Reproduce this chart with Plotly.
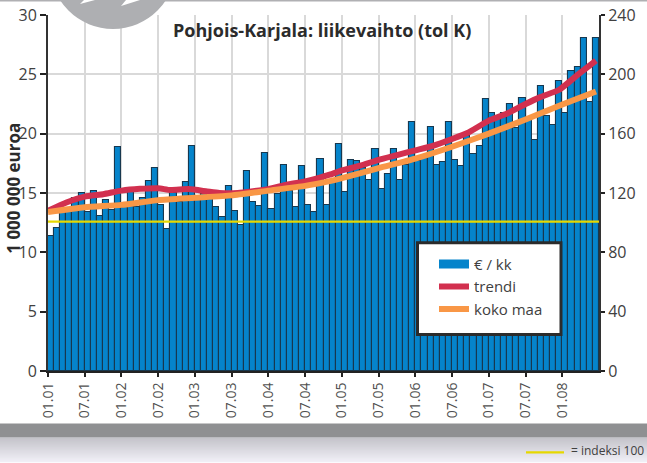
import plotly.graph_objects as go

FONT = "Open Sans, sans-serif"
W, H = 647, 463
L, R, T, B = 48, 599, 15, 371.5

months = list(range(90))
sales = [11.37, 12.05, 13.4, 13.7, 14.6, 15.0, 13.4, 15.2, 13.1, 14.45,
         13.6, 18.9, 13.9, 15.15, 13.8, 14.6, 16.05, 17.1, 14.0, 11.96,
         15.0, 14.2, 15.9, 19.0, 14.37, 14.95, 14.6, 13.84, 13.0, 15.6,
         13.5, 12.27, 16.85, 14.2, 13.9, 18.4, 13.67, 14.9, 17.35, 15.2,
         13.83, 17.3, 13.95, 13.4, 17.87, 14.0, 15.9, 19.15, 15.1, 17.8,
         17.7, 17.1, 16.1, 18.7, 15.35, 16.6, 18.7, 16.1, 17.4, 21.0,
         17.7, 18.0, 20.6, 17.4, 17.6, 21.0, 17.8, 17.3, 19.8, 18.25,
         18.95, 22.9, 21.76, 21.45, 21.7, 22.46, 20.47, 23.0, 21.2, 19.5,
         24.05, 21.5, 20.7, 24.45, 21.76, 25.3, 25.6, 28.1, 22.65, 28.1]

trend_x = [0, 3, 6, 9, 12, 15, 18, 20, 23, 26, 28, 31, 36, 39, 42, 46, 48, 51,
           54, 57, 60, 63, 66, 68.5, 72, 75, 78, 80.5, 83.5, 86.5, 89.5]
trend = [13.5, 14.2, 14.7, 14.9, 15.2, 15.35, 15.4, 15.25, 15.33, 15.13, 15.0, 15.0,
         15.33, 15.7, 15.97, 16.54, 16.9, 17.3, 17.8, 18.2, 18.6, 19.0, 19.55, 20.05,
         21.1, 21.7, 22.5, 23.1, 23.7, 24.95, 26.15]

country_x = [0, 6, 12, 18, 24, 30, 36, 42, 46, 48, 54, 60, 66, 72, 78, 84, 89.5]
country = [13.4, 13.8, 14.0, 14.4, 14.6, 14.8, 15.2, 15.6, 16.0, 16.25, 17.1, 17.9,
           18.9, 20.0, 21.2, 22.45, 23.55]

index_level = [12.58, 12.58]
tick_months = [0, 6, 12, 18, 24, 30, 36, 42, 48, 54, 60, 66, 72, 78, 84]
tick_labels = ["01.01", "07.01", "01.02", "07.02", "01.03", "07.03", "01.04", "07.04",
               "01.05", "07.05", "01.06", "07.06", "01.07", "07.07", "01.08"]
left_ticks = [0, 5, 10, 15, 20, 25, 30]
right_ticks = [0, 40, 80, 120, 160, 200, 240]

fig = go.Figure()
fig.add_bar(x=[m + 0.5 for m in months], y=sales, width=1, showlegend=False,
            marker=dict(color="#0584cb", line=dict(color="#17384f", width=1.1)))
fig.add_scatter(x=[None], y=[None], mode="lines", name="€ / kk",
                line=dict(color="#0584cb", width=9))
fig.add_scatter(x=[0, 90], y=index_level, mode="lines", showlegend=False,
                line=dict(color="#e6d800", width=2.2))
fig.add_scatter(x=trend_x, y=trend, mode="lines", name="trendi",
                line=dict(color="#d2304f", width=6, shape="spline", smoothing=0.5))
fig.add_scatter(x=country_x, y=country, mode="lines", name="koko maa",
                line=dict(color="#f99746", width=6, shape="spline", smoothing=0.5))
fig.add_scatter(x=[0], y=[0], yaxis="y2", mode="markers", showlegend=False,
                marker=dict(opacity=0), hoverinfo="skip")

def px(x): return (x - L) / (R - L)
def py(y): return (B - y) / (B - T)

shapes = []
shapes.append(dict(type="rect", xref="paper", yref="paper", x0=px(0), x1=px(W), y0=py(438), y1=py(424),
                   fillcolor="#8f9092", line_width=0, layer="below"))
steps = 25
c0, c1 = (176, 175, 184), (237, 235, 245)
for i in range(steps):
    t = i / (steps - 1)
    c = tuple(int(a + (b - a) * t) for a, b in zip(c0, c1))
    shapes.append(dict(type="rect", xref="paper", yref="paper", x0=px(0), x1=px(W),
                       y0=py(438 + i + 1), y1=py(438 + i),
                       fillcolor=f"rgb{c}", line_width=0, layer="below"))
shapes.append(dict(type="rect", xref="paper", yref="paper", x0=px(0), x1=px(W), y0=py(1.5), y1=py(0),
                   fillcolor="#b0b0b3", line_width=0, layer="above"))
shapes.append(dict(type="circle", xref="paper", yref="paper", x0=px(113 - 63), x1=px(113 + 63),
                   y0=py(29), y1=py(-97), fillcolor="#aeafb2", line_width=0, layer="above"))
for pts in [[(80, 4), (95, 0), (84, 0)], [(121, 6), (140, 0), (126, 0)]]:
    path = "M" + " L".join(f"{px(a)},{py(b)}" for a, b in pts) + " Z"
    shapes.append(dict(type="path", xref="paper", yref="paper", path=path,
                       fillcolor="white", line_width=0, layer="above"))
shapes.append(dict(type="line", xref="paper", yref="paper", x0=px(526), x1=px(564),
                   y0=py(453), y1=py(453), line=dict(color="#e6d800", width=2.2)))
shapes.append(dict(type="rect", xref="paper", yref="paper", x0=px(417.5), x1=px(561),
                   y0=py(335), y1=py(243), fillcolor="white",
                   line=dict(color="#2b2b2b", width=3), layer="above"))

fig.update_layout(
    width=W, height=H, autosize=False,
    margin=dict(l=L, r=W - R, t=T, b=H - B, pad=0, autoexpand=False),
    paper_bgcolor="white", plot_bgcolor="white",
    font=dict(family=FONT, color="#404040", size=16),
    bargap=0,
    showlegend=True,
    legend=dict(x=px(434), y=py(248), xanchor="left", yanchor="top",
                bgcolor="rgba(0,0,0,0)", borderwidth=0,
                font=dict(size=15, color="#404040"), itemwidth=30,
                tracegroupgap=0, traceorder="normal"),
    xaxis=dict(range=[0, 90], tickmode="array", tickvals=tick_months, ticktext=tick_labels,
               tickangle=-90, ticks="outside", ticklen=4, tickcolor="#222", tickwidth=1.5,
               showgrid=True, gridcolor="#d9d9d9", gridwidth=2, showline=True, automargin=False,
               ticklabelstandoff=0,
               linecolor="#222", linewidth=2, tickfont=dict(size=14, color="#505050")),
    yaxis=dict(range=[0, 30], tickmode="array", tickvals=left_ticks, automargin=False,
               ticks="outside", ticklen=6, tickcolor="#222", tickwidth=1.5,
               showgrid=True, gridcolor="#d9d9d9", gridwidth=2, showline=True,
               linecolor="#333", linewidth=2, tickfont=dict(size=16, color="#404040"),
               zeroline=False),
    yaxis2=dict(range=[0, 240], overlaying="y", side="right", tickmode="array", automargin=False,
                tickvals=right_ticks, ticks="outside", ticklen=4, tickcolor="#222",
                tickwidth=1.5, showgrid=False, showline=True, linecolor="#333", linewidth=2,
                tickfont=dict(size=16, color="#404040"), zeroline=False),
    shapes=shapes,
    annotations=[
        dict(text="<b>Pohjois-Karjala: liikevaihto (tol K)</b>", xref="paper", yref="paper",
             x=px(322), y=py(30), xanchor="center", yanchor="middle", showarrow=False,
             font=dict(size=18, color="#2b2b2b", family=FONT)),
        dict(text="<b>1 000 000 euroa</b>", xref="paper", yref="paper", x=px(14), y=py(189),
             textangle=-90, xanchor="center", yanchor="middle", showarrow=False,
             font=dict(size=17, color="#2b2b2b", family=FONT)),
        dict(text="= indeksi 100", xref="paper", yref="paper", x=px(569), y=py(451),
             xanchor="left", yanchor="middle", showarrow=False,
             font=dict(size=12, color="#404040", family=FONT)),
    ],
)
fig.write_html("out.html", config=dict(displayModeBar=False),
               post_script="document.body.style.margin='0';document.body.style.overflow='hidden';")
